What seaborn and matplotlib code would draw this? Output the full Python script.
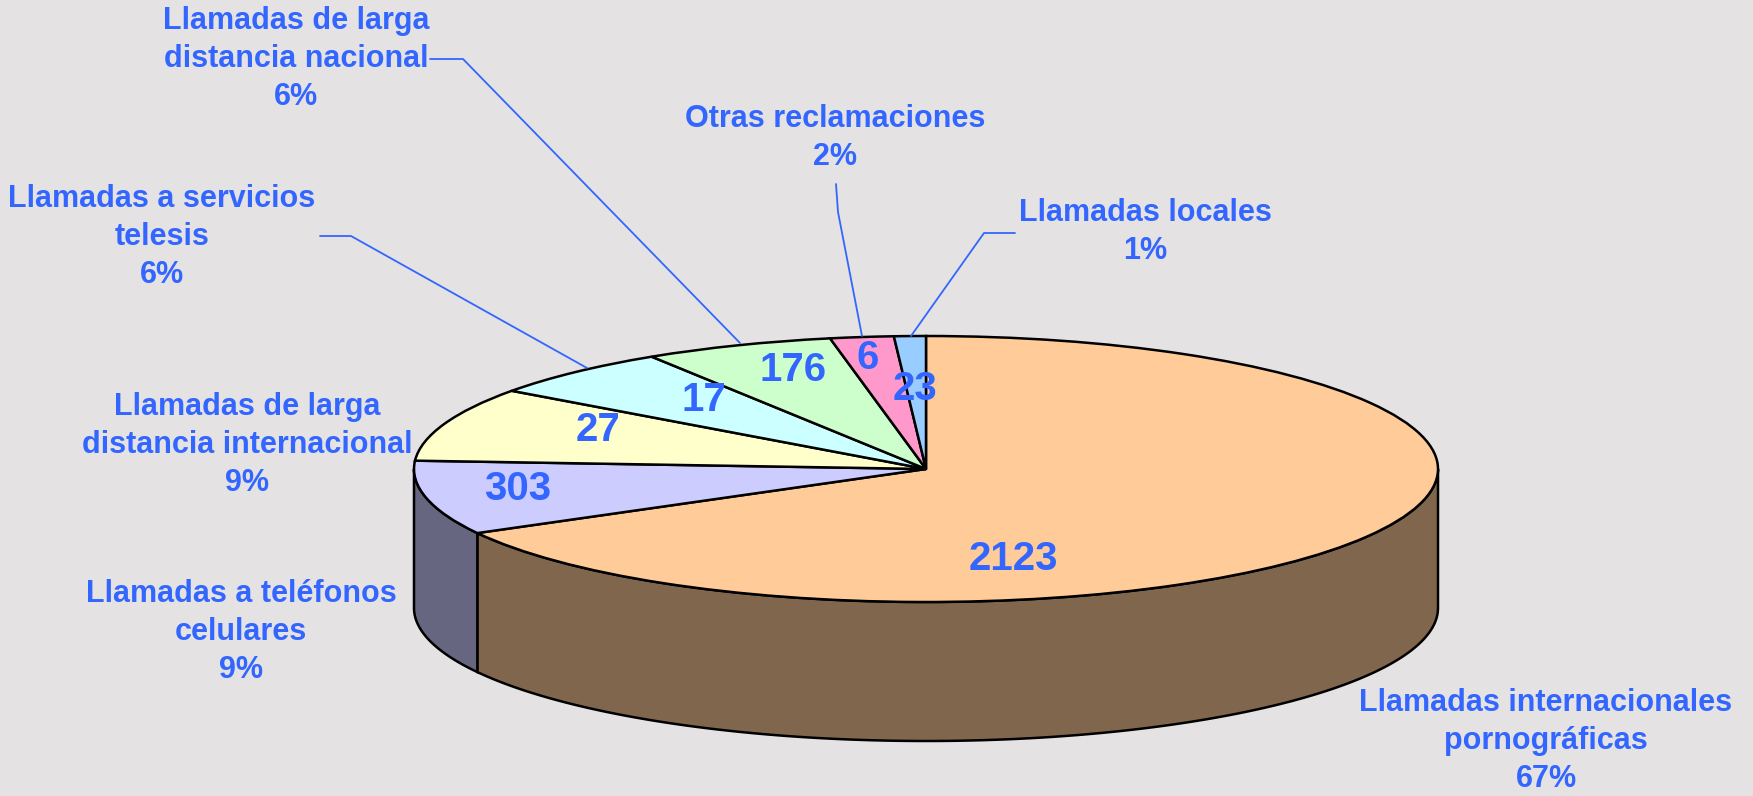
import numpy as np
import matplotlib.pyplot as plt
import seaborn as sns
from matplotlib.patches import Polygon
from matplotlib.colors import to_rgb

categorias = ["Llamadas internacionales\npornográficas",
              "Llamadas a teléfonos\ncelulares",
              "Llamadas de larga\ndistancia internacional",
              "Llamadas a servicios\ntelesis",
              "Llamadas de larga\ndistancia nacional",
              "Otras reclamaciones",
              "Llamadas locales"]
porcentajes = [67, 9, 9, 6, 6, 2, 1]
valores = [2123, 303, 27, 17, 176, 6, 23]
colores = ["#FFCC99", "#CCCCFF", "#FFFFCC", "#CCFFFF", "#CCFFCC", "#FF99CC", "#99CCFF"]

# layout (figure pixels, y from top)
W, H = 1753, 796
k = 133 / 512          # vertical squash of the pie
centro_px = (926, 469)
radio = 512
prof_px = 139
pos_valores = [(1013, 559), (518, 489), (598, 430), (704, 400), (793, 370), (868, 358), (915, 389)]
pos_etiquetas = [(1546, 741), (241, 632), (247, 445), (162, 237), (296, 59), (835, 138), (1145, 232)]
guias = [None, None, None,
         [(320, 236), (351, 236), (587, 368)],
         [(430, 59), (463, 59), (740, 343)],
         [(836, 184), (838, 212), (862, 336)],
         [(1015, 233), (984, 233), (911, 336)]]

azul = "#3366FF"
fondo = "#E4E2E2"

sns.set_style("white")
plt.rcParams['font.family'] = ['Liberation Sans', 'DejaVu Sans']


def px(x, y):
    return x, (H - y) / k


fig = plt.figure(figsize=(W / 100, H / 100), dpi=100)
fig.patch.set_facecolor(fondo)
ax = fig.add_axes([0, 0, 1, 1])
ax.set_facecolor(fondo)

cx, cy = px(*centro_px)
prof = prof_px / k

wedges, _ = ax.pie(porcentajes, colors=colores, startangle=90, counterclock=False,
                   radius=radio, center=(cx, cy),
                   wedgeprops=dict(edgecolor="black", linewidth=1.8))
for w in wedges:
    w.set_zorder(3)

# side walls of the "3D" pie
for w, c in zip(wedges, colores):
    oscuro = tuple(0.5 * v for v in to_rgb(c))
    for off in (-360, 0, 360):
        a = max(w.theta1, 180 + off)
        b = min(w.theta2, 360 + off)
        if b <= a:
            continue
        t = np.radians(np.linspace(a, b, 200))
        xs = cx + w.r * np.cos(t)
        ys = cy + w.r * np.sin(t)
        verts = np.column_stack([np.r_[xs, xs[::-1]], np.r_[ys, ys[::-1] - prof]])
        ax.add_patch(Polygon(verts, closed=True, fc=oscuro, ec="black", lw=1.8, zorder=2))

for v, (x, y) in zip(valores, pos_valores):
    ax.text(*px(x, y), str(v), color=azul, fontsize=29, fontweight="bold",
            ha="center", va="center", zorder=5)

for cat, p, (x, y) in zip(categorias, porcentajes, pos_etiquetas):
    ax.text(*px(x, y), f"{cat}\n{p}%", color=azul, fontsize=22, fontweight="bold",
            ha="center", va="center", multialignment="center", linespacing=1.36, zorder=5)

for g in guias:
    if g is None:
        continue
    xs, ys = zip(*[px(x, y) for x, y in g])
    ax.plot(xs, ys, color=azul, lw=1.3, zorder=4)

ax.set_xlim(0, W)
ax.set_ylim(0, H / k)
ax.set_aspect("auto")
ax.axis("off")

fig.savefig("out.png", dpi=100, facecolor=fondo)
